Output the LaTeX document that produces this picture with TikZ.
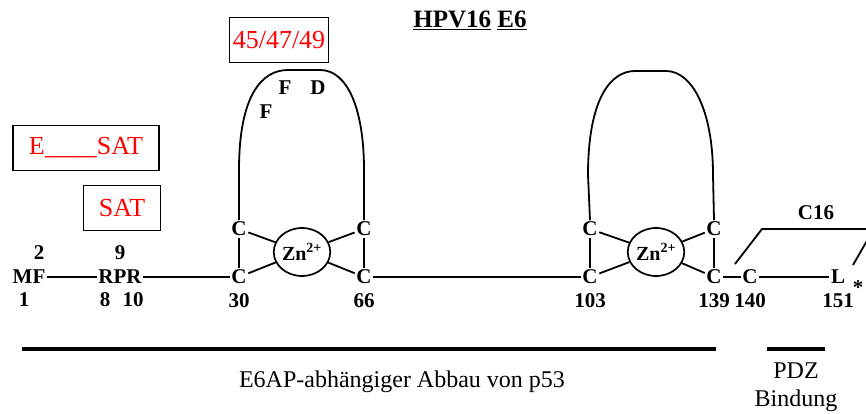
\documentclass[tikz,border=0pt]{standalone}
\usepackage{fontspec}
\setmainfont{Liberation Serif}
\usetikzlibrary{positioning, shapes.geometric}
\tikzset{
  res/.style={font=\fontsize{21}{21}\selectfont\bfseries, inner sep=1.5pt},
  num/.style={font=\fontsize{21}{21}\selectfont\bfseries, inner sep=1pt},
  redbox/.style={draw, line width=1.7pt, text=red, font=\fontsize{26}{26}\selectfont, minimum height=45pt},
  zn/.style={draw, ellipse, line width=1.7pt, minimum width=54pt, minimum height=48pt, inner sep=0pt,
    font=\fontsize{20}{20}\selectfont\bfseries},
  bond/.style={line width=1.8pt},
  bar/.style={line width=4.5pt},
  plain/.style={font=\fontsize{24}{28}\selectfont, align=center},
}

\begin{document}
\begin{tikzpicture}[x=1pt, y=-1pt, node distance=7pt]
    \useasboundingbox (0,0) rectangle (866,414);
    % title
    \node[font=\fontsize{25}{25}\selectfont\bfseries] (title) at (470,20) {\underline{HPV16} \underline{E6}};
    % boxes
    \node[redbox, minimum width=96pt] (b4549) at (279,40) {45/47/49};
    \node[redbox, minimum width=146pt] (besat) at (86,148) {E\_\_\_\_SAT};
    \node[redbox, minimum width=77pt] (bsat) at (122,208) {SAT};
    % N-terminus
    \node[res] (mf) at (29,277) {MF};
    \node[num] at (39,253) {2};
    \node[num] at (24,300) {1};
    \node[res] (rpr) at (120,277) {RPR};
    \node[num] at (120,253) {9};
    \node[num] at (105,300) {8};
    \node[num] at (133,300) {10};
    % first zinc finger
    \node[res] (c30) at (239,277) {C};
    \node[res] (c30t) at (239,229) {C};
    \node[zn] (zn1) at (302,252) {Zn\textsuperscript{2+}};
    \node[res] (c66) at (364,277) {C};
    \node[res] (c66t) at (364,229) {C};
    \node[num, below=of c30] {30};
    \node[num, below=of c66] {66};
    \node[res] at (266,112) {F};
    \node[res] at (285,88) {F};
    \node[res] at (318,88) {D};
    % second zinc finger
    \node[res] (c103) at (590,277) {C};
    \node[res] (c103t) at (590,229) {C};
    \node[zn] (zn2) at (656,252) {Zn\textsuperscript{2+}};
    \node[res] (c139) at (714,277) {C};
    \node[res] (c139t) at (714,229) {C};
    \node[num, below=of c103] {103};
    \node[num, below=of c139] {139};
    % C-terminus
    \node[res] (c140) at (750,277) {C};
    \node[res] (l151) at (838,277) {L};
    \node[res] (stop) at (858,288) {*};
    \node[num, below=of c140] {140};
    \node[num, below=of l151] {151};
    \node[res] (c16) at (816,213) {C16};

    \draw[bond] (mf) -- (rpr);
    \draw[bond] (rpr) -- (c30);
    \draw[bond] (c30) -- (c30t);
    \draw[bond] (c66) -- (c66t);
    \draw[bond] (c30t) -- (zn1);
    \draw[bond] (c30) -- (zn1);
    \draw[bond] (c66t) -- (zn1);
    \draw[bond] (c66) -- (zn1);
    \draw[bond] (c30t.north) -- (239,170) .. controls (239,95) and (262,70) .. (288,70) -- (320,70)
      .. controls (348,70) and (364,110) .. (364,170) -- (c66t.north);
    \draw[bond] (c66) -- (c103);
    \draw[bond] (c103) -- (c103t);
    \draw[bond] (c139) -- (c139t);
    \draw[bond] (c103t) -- (zn2);
    \draw[bond] (c103) -- (zn2);
    \draw[bond] (c139t) -- (zn2);
    \draw[bond] (c139) -- (zn2);
    \draw[bond] (c103t.north) -- (588,175) .. controls (588,100) and (610,71) .. (635,71) -- (666,71)
      .. controls (692,71) and (713,110) .. (713,175) -- (c139t.north);
    \draw[bond] (c139) -- (c140);
    \draw[bond] (c140) -- (l151);
    \draw[bond] (735,264) -- (762,229) -- (880,229);
    \draw[bond] (872,232) -- (853,265);

    % functional regions
    \node[plain] (abbau) at (402,382) {E6AP-abh\"angiger Abbau von p53};
    \node[plain] (pdz) at (796,387) {PDZ\\Bindung};
    \draw[bar] (22,349) -- (716,349);
    \draw[bar] (767,349) -- (825,349);
  \end{tikzpicture}
\end{document}
